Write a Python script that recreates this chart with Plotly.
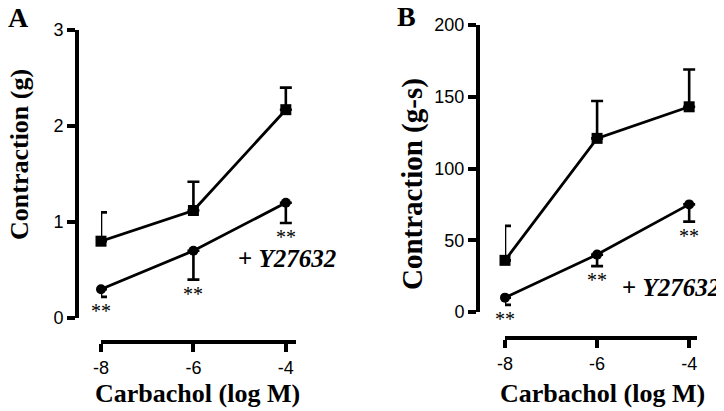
import plotly.graph_objects as go

# ---------------- data ----------------
carbachol_log_m = [-8, -6, -4]
x_tick_labels = ["-8", "-6", "-4"]

# Panel A: contraction (g)
a_control = [0.80, 1.12, 2.17]
a_control_sem = [0.30, 0.30, 0.23]
a_y27632 = [0.30, 0.70, 1.20]
a_y27632_sem = [0.08, 0.30, 0.21]
a_yticks = [0, 1, 2, 3]

# Panel B: contraction (g-s)
b_control = [36, 121, 143]
b_control_sem = [24, 26, 26]
b_y27632 = [10, 40, 75]
b_y27632_sem = [5, 8, 12]
b_yticks = [0, 50, 100, 150, 200]

sig_labels = ["**", "**", "**"]

W, H = 724, 411
OFF = 8  # default page body margin (figure starts 8px into the page)
SERIF = "Liberation Serif"
SANS = "Liberation Sans"


def px(x):
    return (x - OFF) / W


def py(y):
    return 1 - (y - OFF) / H


fig = go.Figure()

line_style = dict(color="black", width=2.8)
err_style = dict(color="black", thickness=2.6, width=6)


def add_pair(ctrl, ctrl_sem, y27, y27_sem, xa, ya):
    fig.add_trace(go.Scatter(
        x=carbachol_log_m, y=ctrl, mode="lines+markers",
        line=line_style, marker=dict(symbol="square", size=11, color="black"),
        error_y=dict(type="data", symmetric=False, array=ctrl_sem,
                     arrayminus=[0] * len(ctrl_sem), **err_style),
        cliponaxis=False, xaxis=xa, yaxis=ya, showlegend=False))
    fig.add_trace(go.Scatter(
        x=carbachol_log_m, y=y27, mode="lines+markers",
        line=line_style, marker=dict(symbol="circle", size=10, color="black"),
        error_y=dict(type="data", symmetric=False, array=[0] * len(y27_sem),
                     arrayminus=y27_sem, **err_style),
        cliponaxis=False, xaxis=xa, yaxis=ya, showlegend=False))


add_pair(a_control, a_control_sem, a_y27632, a_y27632_sem, "x", "y")
add_pair(b_control, b_control_sem, b_y27632, b_y27632_sem, "x2", "y2")

axis_common = dict(
    showline=True, linewidth=4, linecolor="black",
    ticks="outside", ticklen=8, tickwidth=3.5, tickcolor="black",
    showgrid=False, zeroline=False, automargin=False,
    tickfont=dict(family=SANS, size=18, color="black"),
)

fig.update_layout(
    width=W, height=H,
    margin=dict(l=0, r=0, t=0, b=0, pad=0, autoexpand=False),
    paper_bgcolor="white", plot_bgcolor="white",
    xaxis=dict(domain=[px(101), px(296)], range=[-8, -3.78],
               tickvals=carbachol_log_m, ticktext=x_tick_labels,
               anchor="free", position=py(342), **axis_common),
    yaxis=dict(domain=[py(318), py(30)], range=[0, 3],
               tickvals=a_yticks, anchor="free", position=px(77),
               **axis_common),
    xaxis2=dict(domain=[px(505), px(697)], range=[-8, -3.83],
                tickvals=carbachol_log_m, ticktext=x_tick_labels,
                anchor="free", position=py(338), **axis_common),
    yaxis2=dict(domain=[py(312), py(25)], range=[0, 200],
                tickvals=b_yticks, anchor="free", position=px(478),
                **axis_common),
)

ann = []
title_font = dict(family=SERIF, size=26, color="black")
C = dict(xanchor="center", yanchor="middle", showarrow=False)

# panel letters
ann.append(dict(text="<b>A</b>", x=px(18.5), y=py(18), xref="paper", yref="paper",
                font=dict(family=SERIF, size=28, color="black"), **C))
ann.append(dict(text="<b>B</b>", x=px(406), y=py(17), xref="paper", yref="paper",
                font=dict(family=SERIF, size=28, color="black"), **C))

# y titles
ann.append(dict(text="<b>Contraction (g)</b>", x=px(19), y=py(155),
                xref="paper", yref="paper", textangle=-90,
                font=title_font, **C))
ann.append(dict(text="<b>Contraction (g-s)</b>", x=px(413), y=py(184),
                xref="paper", yref="paper", textangle=-90,
                font=dict(family=SERIF, size=29, color="black"), **C))

# x titles
ann.append(dict(text="<b>Carbachol (log M)</b>", x=px(197), y=py(393),
                xref="paper", yref="paper", font=title_font, **C))
ann.append(dict(text="<b>Carbachol (log M)</b>", x=px(602), y=py(393),
                xref="paper", yref="paper", font=title_font, **C))

# treatment labels
lab_font = dict(family=SERIF, size=25, color="black")
ann.append(dict(text="<b>+ <i>Y27632</i></b>", x=-3.98, y=0.625, xref="x", yref="y",
                font=lab_font, **C))
ann.append(dict(text="<b>+ <i>Y27632</i></b>", x=-4.39, y=17.4, xref="x2", yref="y2",
                font=lab_font, **C))

# significance stars under the Y27632 error bars
star_font = dict(family=SERIF, size=20, color="black")
for xv, yv, sem, lab in zip(carbachol_log_m, a_y27632, a_y27632_sem, sig_labels):
    ann.append(dict(text=lab, x=xv, y=yv - sem, xref="x", yref="y", xanchor="center",
                    yanchor="top", yshift=-1, showarrow=False, font=star_font))
for xv, yv, sem, lab in zip(carbachol_log_m, b_y27632, b_y27632_sem, sig_labels):
    ann.append(dict(text=lab, x=xv, y=yv - sem, xref="x2", yref="y2", xanchor="center",
                    yanchor="top", yshift=-1, showarrow=False, font=star_font))

fig.update_layout(annotations=ann)
fig.write_html("out.html")
